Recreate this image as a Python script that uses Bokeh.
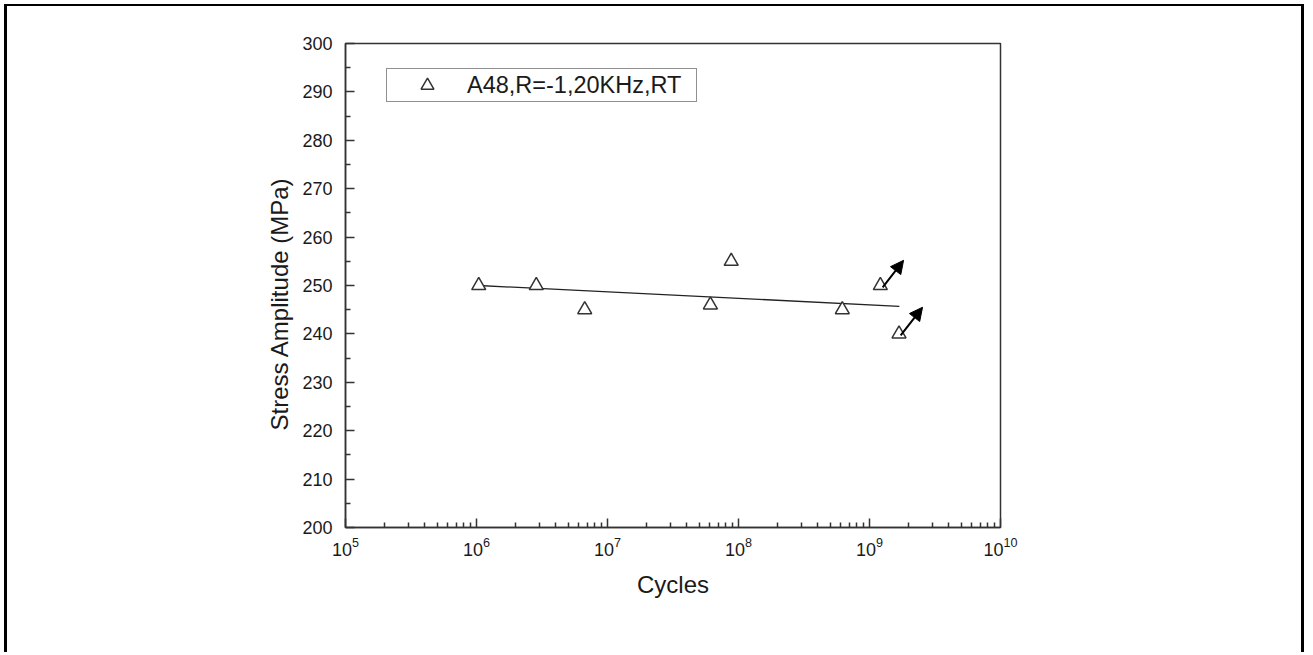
import math
from bokeh.plotting import figure
from bokeh.models import (FixedTicker, Arrow, NormalHead, Legend, LegendItem, Title,
                          Range1d, ColumnDataSource)
from bokeh.embed import file_html
from bokeh.resources import INLINE

# ---- data ----
cycles = [1.04e6, 2.86e6, 6.7e6, 6.1e7, 8.8e7, 6.2e8, 1.21e9, 1.68e9]
stress = [250, 250, 245, 246, 255, 245, 250, 240]
fit_cycles = [1.04e6, 1.69e9]
fit_stress = [250.0, 245.7]
runout_x0 = [1.26e9, 1.73e9]
runout_y0 = [249.6, 239.7]
runout_x1 = [1.82e9, 2.54e9]
runout_y1 = [255.2, 245.5]
x_ticks = [1e5, 1e6, 1e7, 1e8, 1e9, 1e10]
y_ticks = [200, 210, 220, 230, 240, 250, 260, 270, 280, 290, 300]
series_label = "A48,R=-1,20KHz,RT"
x_title = "Cycles"
y_title = "Stress Amplitude (MPa)"

FONT = "Liberation Sans"
AX = "#333333"
TXT = "#1a1a1a"

p = figure(width=1300, height=648, x_axis_type="log",
           x_range=Range1d(x_ticks[0], x_ticks[-1]),
           y_range=Range1d(y_ticks[0], y_ticks[-1]),
           output_backend="svg", toolbar_location=None,
           min_border_left=338, min_border_right=307,
           min_border_top=37, min_border_bottom=127)
p.styles = {"margin-left": "4px", "margin-top": "4px",
            "border-left": "3px solid black", "border-top": "2px solid black",
            "border-right": "3px solid black"}

p.xgrid.visible = False
p.ygrid.visible = False
p.outline_line_color = AX
p.outline_line_width = 1.5
p.background_fill_color = "white"
p.border_fill_color = "white"

minor_x = [m * 10 ** e for e in range(5, 10) for m in range(2, 10)]
minor_y = [v + 5 for v in y_ticks[:-1]]
p.xaxis.ticker = FixedTicker(ticks=x_ticks, minor_ticks=minor_x)
p.yaxis.ticker = FixedTicker(ticks=y_ticks, minor_ticks=minor_y)

for ax in (p.xaxis[0], p.yaxis[0]):
    ax.axis_line_color = AX
    ax.axis_line_width = 1.5
    ax.major_tick_line_color = AX
    ax.minor_tick_line_color = AX
    ax.major_tick_line_width = 1.5
    ax.minor_tick_line_width = 1.5
    ax.major_tick_in = 9
    ax.major_tick_out = 0
    ax.minor_tick_in = 5
    ax.minor_tick_out = 0
    ax.major_label_text_font = FONT
    ax.major_label_text_font_size = "18px"
    ax.major_label_text_color = TXT
    ax.axis_label_text_font = FONT
    ax.axis_label_text_font_size = "24px"
    ax.axis_label_text_font_style = "normal"
    ax.axis_label_text_color = TXT

p.xaxis.major_label_standoff = 9
p.yaxis.major_label_standoff = 13
p.xaxis.axis_label = x_title
p.xaxis.axis_label_standoff = 12

# y title: a vertical title on the left, starting a little above the frame bottom
p.add_layout(Title(text=y_title, align="left", offset=97, standoff=14,
                   text_font=FONT, text_font_size="24px", text_font_style="normal",
                   text_color=TXT), "left")

# fit line
p.line(fit_cycles, fit_stress, line_color="#222222", line_width=1.3)

# data points
r = p.scatter(cycles, stress, marker="triangle", size=14, fill_color="white",
              line_color=AX, line_width=1.5)

# run-out arrows
src = ColumnDataSource(dict(x0=runout_x0, y0=runout_y0, x1=runout_x1, y1=runout_y1))
p.add_layout(Arrow(end=NormalHead(size=13, fill_color="black", line_color="black"),
                   x_start="x0", y_start="y0", x_end="x1", y_end="y1",
                   line_color="black", line_width=2, source=src))

legend = Legend(items=[LegendItem(label=series_label, renderers=[r])],
                location=(41, 425), padding=0, margin=0,
                glyph_width=80, glyph_height=32, label_height=32, label_width=229,
                label_standoff=0,
                label_text_font=FONT, label_text_font_size="23.5px",
                label_text_color=TXT, label_text_baseline="middle",
                border_line_color="#222222", border_line_width=1.5,
                background_fill_color="white", background_fill_alpha=1.0)
p.add_layout(legend)

open("out.html", "w").write(file_html(p, INLINE))
